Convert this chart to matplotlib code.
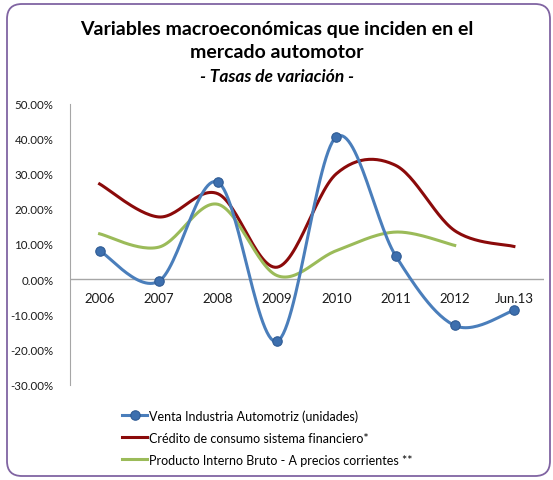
import numpy as np
import matplotlib.pyplot as plt
from matplotlib.patches import FancyBboxPatch
from matplotlib.lines import Line2D
from matplotlib.ticker import FuncFormatter

plt.rcParams['font.family'] = ['Lato', 'DejaVu Sans']

# Data (tasas de variacion, %)
categorias = ['2006', '2007', '2008', '2009', '2010', '2011', '2012', 'Jun.13']
venta = [8.1, -0.6, 27.6, -17.7, 40.5, 6.7, -13.2, -8.9]
credito = [27.1, 17.7, 24.3, 3.4, 30.0, 32.4, 13.8, 9.3]
pib = [12.9, 9.1, 21.3, 1.0, 8.1, 13.4, 9.6]

labels = ['Venta Industria Automotriz (unidades)',
          'Crédito de consumo sistema financiero*',
          'Producto Interno Bruto - A precios corrientes **']

azul = '#4a7ebb'
rojo = '#8b0a0a'
verde = '#9bbb59'


def suavizar(y, n=30):
    # Excel style smoothed line (Catmull-Rom as cubic Bezier)
    x = np.arange(len(y), dtype=float)
    y = np.asarray(y, dtype=float)
    pts = np.column_stack([x, y])
    out = []
    for i in range(len(pts) - 1):
        p0 = pts[max(i - 1, 0)]
        p1 = pts[i]
        p2 = pts[i + 1]
        p3 = pts[min(i + 2, len(pts) - 1)]
        c1 = p1 + (p2 - p0) / 6
        c2 = p2 - (p3 - p1) / 6
        t = np.linspace(0, 1, n)[:, None]
        seg = ((1 - t) ** 3) * p1 + 3 * ((1 - t) ** 2) * t * c1 + 3 * (1 - t) * t ** 2 * c2 + t ** 3 * p2
        out.append(seg if i == 0 else seg[1:])
    seg = np.vstack(out)
    return seg[:, 0], seg[:, 1]


fig = plt.figure(figsize=(5.53, 4.81), dpi=100)

# rounded border
fig.patches.append(FancyBboxPatch((7 / 553, 4 / 481), 543 / 553, 472 / 481,
                                  boxstyle='round,pad=0,rounding_size=0.027',
                                  mutation_aspect=553 / 481,
                                  transform=fig.transFigure, fill=False,
                                  edgecolor='#8064a2', linewidth=1.3))

ax = fig.add_axes([70 / 553, 95.5 / 481, 473.5 / 553, 281 / 481])

xs, ys = suavizar(credito)
ax.plot(xs, ys, color=rojo, lw=2.2, zorder=2)
xs, ys = suavizar(pib)
ax.plot(xs, ys, color=verde, lw=2.2, zorder=2)
xs, ys = suavizar(venta)
ax.plot(xs, ys, color=azul, lw=2.2, zorder=3)
ax.plot(range(len(venta)), venta, 'o', color='#3d6fae', markeredgecolor='#2f5b94',
        markeredgewidth=0.8, markersize=6.8, zorder=4)

ax.set_xlim(-0.5, len(categorias) - 0.5)
ax.set_ylim(-30, 50)
ax.set_yticks(np.arange(-30, 51, 10))
ax.yaxis.set_major_formatter(FuncFormatter(lambda v, p: f'{v:.2f}%'))
ax.tick_params(axis='y', length=0, labelsize=8.3, pad=12, colors='#1a1a1a')
ax.set_xticks([])
for s in ['top', 'right', 'bottom']:
    ax.spines[s].set_visible(False)
ax.spines['left'].set_color('#a6a6a6')
ax.axhline(0, color='#a6a6a6', lw=1, zorder=1)
for i, c in enumerate(categorias):
    ax.annotate(c, (i, 0), xytext=(0, -9), textcoords='offset points',
                ha='center', va='top', fontsize=9.5, color='#1a1a1a')

fig.text(0.5, 1 - 30 / 481, 'Variables macroeconómicas que inciden en el',
         ha='center', va='center', fontsize=14, fontweight='bold')
fig.text(0.5, 1 - 53 / 481, 'mercado automotor',
         ha='center', va='center', fontsize=14, fontweight='bold')
fig.text(0.5, 1 - 77 / 481, '- Tasas de variación -',
         ha='center', va='center', fontsize=12.5, fontweight='bold', style='italic')

handles = [Line2D([], [], color=azul, lw=2.2, marker='o', markerfacecolor='#3d6fae',
                  markeredgecolor='#2f5b94', markeredgewidth=0.8, markersize=6.8),
           Line2D([], [], color=rojo, lw=2.2),
           Line2D([], [], color=verde, lw=2.2)]
fig.legend(handles, labels, loc='upper left', bbox_to_anchor=(122 / 553, 1 - 410 / 481),
           frameon=False, fontsize=9, handlelength=2.0, handletextpad=0.15,
           labelspacing=0.8, borderaxespad=0, borderpad=0)

fig.savefig('out.png', dpi=100)
